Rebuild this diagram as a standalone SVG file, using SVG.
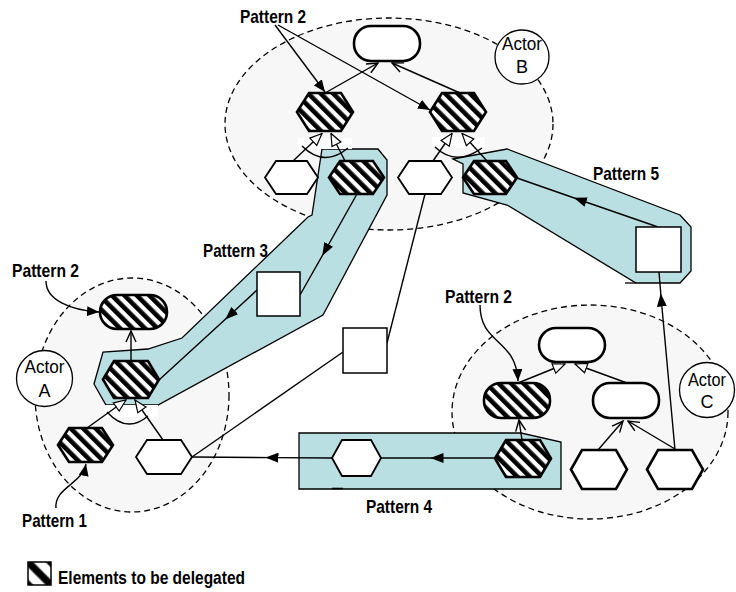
<svg xmlns="http://www.w3.org/2000/svg" width="736" height="592" viewBox="0 0 736 592">
  <style>
    .actor { fill: #f7f7f7; stroke: #000; stroke-width: 1.3; stroke-dasharray: 6 4; }
    .badge { fill: #fff; stroke: #000; stroke-width: 1.3; }
    .zone { fill: #b9dfe2; stroke: #000; stroke-width: 1.3; }
    .patch { fill: #fff; stroke: none; }
    .hatch { fill: url(#stripes); stroke: #000; stroke-width: 2.6; }
    .plain { fill: #fff; stroke: #000; stroke-width: 2.6; }
    .plain-thin { fill: #fff; stroke: #000; stroke-width: 1.8; }
    .box { fill: #fff; stroke: #000; stroke-width: 1.5; }
    .link { fill: none; stroke: #000; stroke-width: 1.4; }
    .lbl { font-family: "Liberation Sans", Arial, sans-serif; font-weight: bold; font-size: 18.5px; fill: #000; }
    .act { font-family: "Liberation Sans", Arial, sans-serif; font-size: 18px; fill: #000; text-anchor: middle; }
  </style>
  <defs>
    <pattern id="stripes" patternUnits="userSpaceOnUse" width="8.8" height="8.8" patternTransform="rotate(-45)">
      <rect x="0" y="0" width="8.8" height="8.8" fill="#fff"/>
      <rect x="0" y="0" width="4.6" height="8.8" fill="#000"/>
    </pattern>
    <pattern id="stripesBig" patternUnits="userSpaceOnUse" width="16" height="16" patternTransform="translate(39.5,573.5) rotate(-45)">
      <rect x="0" y="0" width="16" height="16" fill="#fff"/>
      <rect x="0" y="0" width="3.6" height="16" fill="#000"/>
      <rect x="12.4" y="0" width="3.6" height="16" fill="#000"/>
    </pattern>
    <marker id="arrFill" viewBox="0 0 12 10" refX="12" refY="5" markerWidth="12" markerHeight="10" markerUnits="userSpaceOnUse" orient="auto">
      <path d="M0,0 L12,5 L0,10 z" fill="#000"/>
    </marker>
    <marker id="arrMid" viewBox="0 0 13 10" refX="6.5" refY="5" markerWidth="13" markerHeight="10" markerUnits="userSpaceOnUse" orient="auto">
      <path d="M0,0 L13,5 L0,10 z" fill="#000"/>
    </marker>
    <marker id="arrOpen" viewBox="-1 -1 13 12" refX="11" refY="5" markerWidth="13" markerHeight="12" markerUnits="userSpaceOnUse" orient="auto">
      <path d="M0,0 L11,5 L0,10" fill="none" stroke="#000" stroke-width="1.4"/>
    </marker>
    <marker id="arrHollow" viewBox="-1 -1 14 12" refX="12" refY="5" markerWidth="14" markerHeight="12" markerUnits="userSpaceOnUse" orient="auto">
      <path d="M0,0 L12,5 L0,10 z" fill="#fff" stroke="#000" stroke-width="1.2"/>
    </marker>
  </defs>

  <!-- actor boundaries -->
  <g id="actor-b-boundary"><ellipse class="actor" cx="389" cy="124" rx="164" ry="106"/></g>
  <g id="actor-a-boundary"><ellipse class="actor" cx="132" cy="395" rx="97" ry="117"/></g>
  <g id="actor-c-boundary"><ellipse class="actor" cx="590" cy="412" rx="138" ry="107"/></g>

  <!-- pattern regions -->
  <g id="pattern3-zone">
    <polygon class="zone" points="322,149 378,149 387,160 387,195 323,315 158,405 106,405 94,384 103,352 148,349 182,338 308,217 312,215"/>
  </g>
  <g id="pattern4-zone">
    <polygon class="zone" points="299,433 521,433 561,442 561,489 299,489"/>
    <line x1="332" y1="488.5" x2="343" y2="488.5" stroke="#000" stroke-width="1.6"/>
  </g>
  <g id="pattern5-zone">
    <polygon class="zone" points="453,159 507,149 680,215 691,227 691,271 680,283 636,283 507,205 463,193 463,164"/>
    <line x1="625" y1="283" x2="636" y2="283" stroke="#000" stroke-width="1.3"/>
  </g>

  <!-- gaps under decomposition arrowheads -->
  <rect class="patch" x="298" y="138" width="54" height="11"/>
  <rect class="patch" x="432" y="137" width="53" height="11"/>
  <rect class="patch" x="104" y="405" width="54" height="12"/>

  <!-- connectors -->
  <g id="connectors">
    <!-- Actor B decompositions -->
    <path class="link" d="M302,146 Q324,168 348,148"/>
    <line class="link" x1="293" y1="161" x2="322" y2="133.5" marker-end="url(#arrHollow)"/>
    <line class="link" x1="345" y1="161" x2="331" y2="133.5" marker-end="url(#arrHollow)"/>
    <path class="link" d="M435,147 Q456,167 482,148"/>
    <line class="link" x1="433" y1="161" x2="452" y2="133.5" marker-end="url(#arrHollow)"/>
    <line class="link" x1="487" y1="161" x2="462" y2="133.5" marker-end="url(#arrHollow)"/>
    <line class="link" x1="325" y1="93" x2="378" y2="63" marker-end="url(#arrOpen)"/>
    <line class="link" x1="460" y1="93" x2="392" y2="63" marker-end="url(#arrOpen)"/>

    <!-- Actor A decompositions -->
    <path class="link" d="M107,412 Q127,434 148,416"/>
    <line class="link" x1="87" y1="428" x2="126" y2="400" marker-end="url(#arrHollow)"/>
    <line class="link" x1="163" y1="440" x2="135" y2="400" marker-end="url(#arrHollow)"/>
    <line class="link" x1="131" y1="361" x2="131" y2="331" marker-end="url(#arrOpen)"/>

    <!-- Actor C decompositions -->
    <line class="link" x1="518" y1="383" x2="565" y2="364" marker-end="url(#arrHollow)"/>
    <line class="link" x1="627" y1="383" x2="575" y2="364" marker-end="url(#arrHollow)"/>
    <line class="link" x1="522" y1="440" x2="519" y2="420" marker-end="url(#arrOpen)"/>
    <line class="link" x1="598" y1="450" x2="623" y2="421" marker-end="url(#arrOpen)"/>
    <line class="link" x1="675" y1="449" x2="628" y2="421" marker-end="url(#arrOpen)"/>

    <!-- delegation links -->
    <path class="link" d="M357,194 L325.5,250 L300,295" marker-mid="url(#arrMid)"/>
    <path class="link" d="M257,290 L230,315 L159,380" marker-mid="url(#arrMid)"/>
    <line class="link" x1="192" y1="457" x2="343" y2="352"/>
    <line class="link" x1="387" y1="343" x2="425" y2="194"/>
    <path class="link" d="M495,458 L437,458 L381,458" marker-mid="url(#arrMid)"/>
    <path class="link" d="M332,458 L272,457.6 L192,457" marker-mid="url(#arrMid)"/>
    <path class="link" d="M658,227 L580,200 L517,178" marker-mid="url(#arrMid)"/>
    <path class="link" d="M675,450 L661.3,300 L659,272" marker-mid="url(#arrMid)"/>

    <!-- pattern callouts -->
    <line class="link" x1="275" y1="25" x2="325" y2="92" stroke-width="1.6" marker-end="url(#arrFill)"/>
    <line class="link" x1="278" y1="25" x2="430" y2="110" stroke-width="1.6" marker-end="url(#arrFill)"/>
    <path class="link" d="M46,281 C46,300 70,310 99,312" stroke-width="1.6" marker-end="url(#arrFill)"/>
    <path class="link" d="M56,508 C54,488 82,484 86,464" stroke-width="1.6" marker-end="url(#arrFill)"/>
    <path class="link" d="M480,305 C480,345 516,338 518,381" stroke-width="1.6" marker-end="url(#arrFill)"/>
  </g>

  <!-- Actor B elements -->
  <g id="b-goal"><rect class="plain" x="354" y="26" width="66" height="35" rx="17"/></g>
  <g id="b-task-1"><polygon class="hatch" points="297,112 309,93 341,93 353,112 341,131 309,131"/></g>
  <g id="b-task-2"><polygon class="hatch" points="430,112 442,93 474,93 486,112 474,131 442,131"/></g>
  <g id="b-sub-1"><polygon class="plain-thin" points="265,177.5 276,161 307,161 318,177.5 307,194 276,194"/></g>
  <g id="b-sub-2"><polygon class="hatch" points="329,177.5 340,161 373,161 384,177.5 373,194 340,194"/></g>
  <g id="b-sub-3"><polygon class="plain-thin" points="398,177.5 409,161 441,161 452,177.5 441,194 409,194"/></g>
  <g id="b-sub-4"><polygon class="hatch" points="463,177.5 474,161 506,161 517,177.5 506,194 474,194"/></g>

  <!-- Actor A elements -->
  <g id="a-goal"><rect class="hatch" x="100" y="295" width="67" height="34" rx="17"/></g>
  <g id="a-task"><polygon class="hatch" points="103,379.5 114,361 148,361 159,379.5 148,398 114,398"/></g>
  <g id="a-sub-1"><polygon class="hatch" points="58,445 69,428 102,428 113,445 102,462 69,462"/></g>
  <g id="a-sub-2"><polygon class="plain-thin" points="136,457 147,440 181,440 192,457 181,474 147,474"/></g>

  <!-- Actor C elements -->
  <g id="c-goal"><rect class="plain" x="539" y="328" width="66" height="34" rx="17"/></g>
  <g id="c-goal-1"><rect class="hatch" x="484" y="383" width="66" height="35" rx="17"/></g>
  <g id="c-goal-2"><rect class="plain" x="593" y="383" width="66" height="35" rx="17"/></g>
  <g id="c-task"><polygon class="hatch" points="495,458.5 506,440 540,440 551,458.5 540,477 506,477"/></g>
  <g id="c-sub-1"><polygon class="plain" points="571,469.5 582,450 616,450 627,469.5 616,489 582,489"/></g>
  <g id="c-sub-2"><polygon class="plain" points="647,469.5 658,450 692,450 703,469.5 692,489 658,489"/></g>

  <!-- delegated copies -->
  <g id="p4-task"><polygon class="plain-thin" stroke-width="1.5" points="332,458 342,440 371,440 381,458 371,476 342,476"/></g>
  <g id="p3-resource"><rect class="box" x="257" y="272" width="43" height="44"/></g>
  <g id="mid-resource"><rect class="box" x="343" y="328" width="44" height="45"/></g>
  <g id="p5-resource"><rect class="box" x="636" y="227" width="45" height="45"/></g>

  <!-- actor badges -->
  <g id="actor-a">
    <circle class="badge" cx="44.5" cy="378.5" r="28"/>
    <text class="act" x="44.5" y="373" textLength="40" lengthAdjust="spacingAndGlyphs">Actor</text>
    <text class="act" x="44.5" y="397">A</text>
  </g>
  <g id="actor-b">
    <circle class="badge" cx="522" cy="57" r="27"/>
    <text class="act" x="522" y="50" textLength="40" lengthAdjust="spacingAndGlyphs">Actor</text>
    <text class="act" x="522" y="73">B</text>
  </g>
  <g id="actor-c">
    <circle class="badge" cx="707" cy="390" r="27.5"/>
    <text class="act" x="707" y="386" textLength="38" lengthAdjust="spacingAndGlyphs">Actor</text>
    <text class="act" x="707" y="408">C</text>
  </g>

  <!-- labels -->
  <g id="labels">
    <text class="lbl" x="240" y="23" textLength="66" lengthAdjust="spacingAndGlyphs">Pattern 2</text>
    <text class="lbl" x="12" y="277" textLength="67" lengthAdjust="spacingAndGlyphs">Pattern 2</text>
    <text class="lbl" x="22" y="527" textLength="65" lengthAdjust="spacingAndGlyphs">Pattern 1</text>
    <text class="lbl" x="203" y="257" textLength="65" lengthAdjust="spacingAndGlyphs">Pattern 3</text>
    <text class="lbl" x="445" y="303" textLength="67" lengthAdjust="spacingAndGlyphs">Pattern 2</text>
    <text class="lbl" x="366" y="513" textLength="66" lengthAdjust="spacingAndGlyphs">Pattern 4</text>
    <text class="lbl" x="593" y="180" textLength="66" lengthAdjust="spacingAndGlyphs">Pattern 5</text>
  </g>

  <!-- legend -->
  <g id="legend">
    <rect x="28" y="562" width="23" height="23" fill="url(#stripesBig)" stroke="#000" stroke-width="1.5"/>
    <text class="lbl" x="58" y="584" textLength="187" lengthAdjust="spacingAndGlyphs">Elements to be delegated</text>
  </g>
</svg>
